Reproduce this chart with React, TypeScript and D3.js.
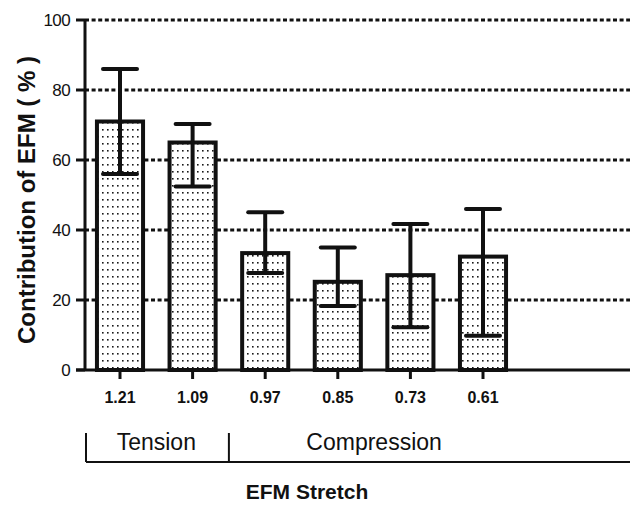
import React from "react";
import * as d3 from "d3";

const categories = ["1.21", "1.09", "0.97", "0.85", "0.73", "0.61"];
const means = [71, 65, 33.4, 25.2, 27.1, 32.4];
const upper = [86, 70.3, 45.1, 35, 41.7, 46];
const lower = [56, 52.4, 27.7, 18.3, 12.2, 9.8];
const yTicks = [0, 20, 40, 60, 80, 100];
const groups = [
  { label: "Tension", from: 0, to: 1 },
  { label: "Compression", from: 2, to: 5 },
];

const W = 630;
const H = 505;

export default function App() {
  const y = d3.scaleLinear().domain([0, 100]).range([370, 20]);
  const x = d3
    .scaleBand<string>()
    .domain(categories)
    .range([83.7, 519.3])
    .paddingInner(0.31)
    .paddingOuter(0.155);
  const bw = x.bandwidth();
  const axisX = 85;
  const capW = 34;
  const groupEdges = [axisX + 1, (x(categories[1])! + bw + x(categories[2])!) / 2];

  return (
    <svg
      width={W}
      height={H}
      style={{ position: "absolute", left: 0, top: 0, background: "#fff" }}
      fontFamily="'Liberation Sans', Arial, sans-serif"
    >
      <defs>
        <pattern id="dots" width={5} height={7} patternUnits="userSpaceOnUse">
          <rect width={5} height={7} fill="#fff" />
          <rect x={2} y={3} width={1.6} height={1.6} fill="#1a1a1a" />
        </pattern>
      </defs>
      {/* gridlines */}
      {yTicks
        .filter((t) => t > 0)
        .map((t) => (
          <line
            key={"g" + t}
            x1={axisX}
            x2={W}
            y1={y(t)}
            y2={y(t)}
            stroke="#111"
            strokeWidth={3}
            strokeDasharray="4 2.6"
          />
        ))}
      {/* y axis */}
      <line x1={axisX} x2={axisX} y1={y(100)} y2={y(0)} stroke="#111" strokeWidth={3} />
      {yTicks.map((t) => (
        <g key={"t" + t}>
          <line x1={76} x2={axisX} y1={y(t)} y2={y(t)} stroke="#111" strokeWidth={3} />
          <text
            x={70}
            y={y(t)}
            dy="0.36em"
            textAnchor="end"
            fontSize={17}
            fill="#111"
            letterSpacing={-0.6}
          >
            {t}
          </text>
        </g>
      ))}
      {/* bars */}
      {categories.map((c, i) => (
        <rect
          key={"b" + c}
          x={x(c)! + 2}
          y={y(means[i])}
          width={bw - 4}
          height={y(0) - y(means[i])}
          fill="url(#dots)"
          stroke="#111"
          strokeWidth={4}
        />
      ))}
      {/* error bars */}
      {categories.map((c, i) => {
        const cx = x(c)! + bw / 2;
        return (
          <g key={"e" + c} stroke="#111" strokeWidth={4}>
            <line x1={cx} x2={cx} y1={y(upper[i])} y2={y(lower[i])} />
            <line x1={cx - capW / 2} x2={cx + capW / 2} y1={y(upper[i])} y2={y(upper[i])} strokeLinecap="round" />
            <line x1={cx - capW / 2} x2={cx + capW / 2} y1={y(lower[i])} y2={y(lower[i])} strokeLinecap="round" />
          </g>
        );
      })}
      {/* x axis */}
      <line x1={76} x2={W} y1={y(0)} y2={y(0)} stroke="#111" strokeWidth={3} />
      {categories.map((c) => {
        const cx = x(c)! + bw / 2;
        return (
          <g key={"x" + c}>
            <line x1={cx} x2={cx} y1={y(0)} y2={y(0) + 9} stroke="#111" strokeWidth={3} />
            <text x={cx} y={403} textAnchor="middle" fontSize={16} fontWeight="bold" fill="#111">
              {c}
            </text>
          </g>
        );
      })}
      {/* group brackets */}
      <line x1={groupEdges[0]} x2={W} y1={462} y2={462} stroke="#111" strokeWidth={2} />
      {groupEdges.map((gx, i) => (
        <line key={"ge" + i} x1={gx} x2={gx} y1={433} y2={462} stroke="#111" strokeWidth={2} />
      ))}
      {groups.map((g) => {
        const cx = (x(categories[g.from])! + x(categories[g.to])! + bw) / 2;
        return (
          <text key={g.label} x={cx} y={450} textAnchor="middle" fontSize={23} fill="#111">
            {g.label}
          </text>
        );
      })}
      <text x={307} y={499} textAnchor="middle" fontSize={21} fontWeight="bold" fill="#111">
        EFM Stretch
      </text>
      <text
        transform={`translate(35,${(50 + 350) / 2}) rotate(-90)`}
        textAnchor="middle"
        fontSize={24}
        fontWeight="bold"
        fill="#111"
      >
        Contribution of EFM ( % )
      </text>
    </svg>
  );
}
